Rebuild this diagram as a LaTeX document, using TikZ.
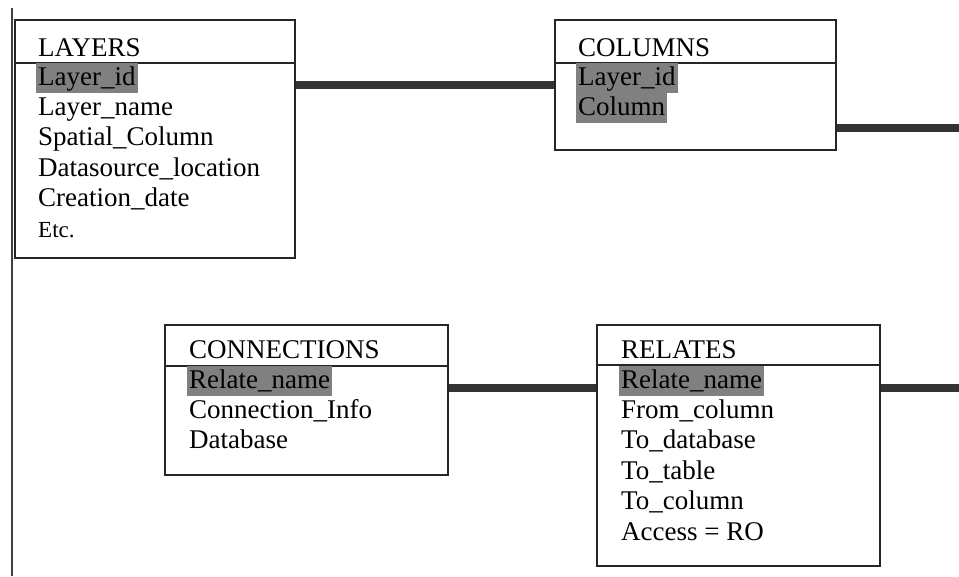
\documentclass[tikz,border=0pt]{standalone}
\usepackage{fontspec}
\setmainfont{Liberation Serif}
\usetikzlibrary{positioning}
\definecolor{keygray}{HTML}{808080}
\definecolor{linkgray}{HTML}{333333}
\begin{document}
\begin{tikzpicture}[x=1pt, y=-1pt,
        table/.style={draw=black!85, line width=1.5pt, anchor=north west, inner sep=0pt},
        title/.style={anchor=base west, inner xsep=2pt, inner ysep=0pt, font=\fontsize{27}{30}\selectfont},
        field/.style={title, text height=22pt, text depth=8pt},
        key/.style={field, fill=keygray},
        link/.style={draw=linkgray, line width=8pt}]
        \useasboundingbox (0,0) rectangle (959,576);

        % LAYERS
        \node (layers) [table, minimum width=280pt, minimum height=238pt] at (14,19) {};
        \draw[draw=black!85, line width=1.5pt] ([yshift=-44pt]layers.north west) -- ([yshift=-44pt]layers.north east);
        \node (layersT) [title] at (36,56) {LAYERS};
        \node (layers1) [key] at (36,85) {Layer\_id};
        \node (layers2) [field, below=0pt of layers1.south west, anchor=north west] {Layer\_name};
        \node (layers3) [field, below=0pt of layers2.south west, anchor=north west] {Spatial\_Column};
        \node (layers4) [field, below=0pt of layers3.south west, anchor=north west] {Datasource\_location};
        \node (layers5) [field, below=0pt of layers4.south west, anchor=north west] {Creation\_date};
        \node (layers6) [field, font=\fontsize{23}{26}\selectfont, below=0pt of layers5.south west, anchor=north west] {Etc.};

        % COLUMNS
        \node (columns) [table, minimum width=281pt, minimum height=130pt] at (554,19) {};
        \draw[draw=black!85, line width=1.5pt] ([yshift=-44pt]columns.north west) -- ([yshift=-44pt]columns.north east);
        \node (columnsT) [title] at (576,56) {COLUMNS};
        \node (columns1) [key] at (576,85) {Layer\_id};
        \node (columns2) [key, below=0pt of columns1.south west, anchor=north west] {Column};

        % CONNECTIONS
        \node (connections) [table, minimum width=283pt, minimum height=150pt] at (164,324) {};
        \draw[draw=black!85, line width=1.5pt] ([yshift=-42pt]connections.north west) -- ([yshift=-42pt]connections.north east);
        \node (connectionsT) [title] at (187,358) {CONNECTIONS};
        \node (connections1) [key] at (187,388) {Relate\_name};
        \node (connections2) [field, below=0pt of connections1.south west, anchor=north west] {Connection\_Info};
        \node (connections3) [field, below=0pt of connections2.south west, anchor=north west] {Database};

        % RELATES
        \node (relates) [table, minimum width=283pt, minimum height=241pt] at (596,324) {};
        \draw[draw=black!85, line width=1.5pt] ([yshift=-41pt]relates.north west) -- ([yshift=-41pt]relates.north east);
        \node (relatesT) [title] at (619,358) {RELATES};
        \node (relates1) [key] at (619,388) {Relate\_name};
        \node (relates2) [field, below=0pt of relates1.south west, anchor=north west] {From\_column};
        \node (relates3) [field, below=0pt of relates2.south west, anchor=north west] {To\_database};
        \node (relates4) [field, below=0pt of relates3.south west, anchor=north west] {To\_table};
        \node (relates5) [field, below=0pt of relates4.south west, anchor=north west] {To\_column};
        \node (relates6) [field, below=0pt of relates5.south west, anchor=north west] {Access = RO};

        % links
        \coordinate (colsout) at (959,128);
        \coordinate (relout) at (959,388);
        \coordinate (spinetop) at (12,8);
        \coordinate (spinebot) at (12,576);
        \draw[link] ([yshift=-66pt]layers.north east) -- ([yshift=-66pt]columns.north west);
        \draw[link] ([yshift=-109pt]columns.north east) -- (colsout);
        \draw[link] ([yshift=-64pt]connections.north east) -- ([yshift=-64pt]relates.north west);
        \draw[link] ([yshift=-64pt]relates.north east) -- (relout);
        \draw[draw=black!75, line width=2pt] (spinetop) -- (spinebot);
\end{tikzpicture}
\end{document}
